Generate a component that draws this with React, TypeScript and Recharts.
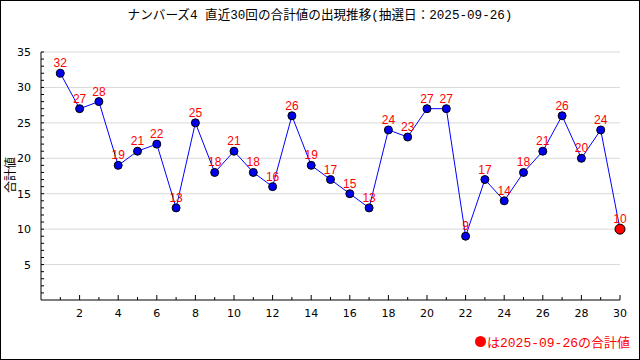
import { LineChart, Line, XAxis, YAxis, ReferenceLine, LabelList } from "recharts";

// 回号(1〜30) と合計値
const draws = Array.from({ length: 30 }, (_, i) => i + 1);
const sums = [32, 27, 28, 19, 21, 22, 13, 25, 18, 21, 18, 16, 26, 19, 17, 15, 13, 24, 23, 27, 27, 9, 17, 14, 18, 21, 26, 20, 24, 10];
const yTicks = Array.from({ length: 35 }, (_, i) => i + 1);
const xTicks = Array.from({ length: 30 }, (_, i) => i + 1);
const gridValues = [5, 10, 15, 20, 25, 30, 35];

const title = "ナンバーズ4 直近30回の合計値の出現推移(抽選日：2025-09-26)";
const legendText = "は2025-09-26の合計値";
const yLabel = "合計値";

const data = draws.map((d, i) => ({ draw: d, sum: sums[i] }));
const last = data.length - 1;

const tickFont = "'DejaVu Sans', 'Liberation Sans', sans-serif";
const jpFont = "'Liberation Mono', 'Noto Sans CJK JP', monospace";

function YTick({ x, y, payload }: any) {
  const v = payload.value;
  const major = v % 5 === 0;
  return (
    <g>
      <line x1={x} y1={y} x2={x + 3} y2={y} stroke="#000" />
      {major && (
        <text x={x - 10} y={y} dy={4} textAnchor="end" fontSize={11} fontFamily={tickFont} fill="#000">
          {v}
        </text>
      )}
    </g>
  );
}

function XTick({ x, y, payload }: any) {
  const v = payload.value;
  const major = v % 2 === 0;
  return (
    <g>
      <line x1={x} y1={y} x2={x} y2={y - (major ? 5 : 3)} stroke="#000" />
      {major && (
        <text x={x} y={y + 17} textAnchor="middle" fontSize={11} fontFamily={tickFont} fill="#000">
          {v}
        </text>
      )}
    </g>
  );
}

function Dot({ cx, cy, index }: any) {
  if (index === last) {
    return <circle key={index} cx={cx} cy={cy} r={5} fill="#ff0000" stroke="#000" strokeWidth={1} />;
  }
  return <circle key={index} cx={cx} cy={cy} r={4} fill="#0000ee" stroke="#000" strokeWidth={1} />;
}

export default function App() {
  return (
    <div style={{ position: "absolute", left: 0, top: 0, width: 640, height: 360, background: "#fff" }}>
      <LineChart width={640} height={360} data={data} margin={{ top: 52, right: 20, bottom: 0, left: 0 }}>
        {gridValues.map((g) => (
          <ReferenceLine key={g} y={g} stroke="#d9d9d9" strokeWidth={1} />
        ))}
        <XAxis
          dataKey="draw"
          type="number"
          domain={[0, 30]}
          ticks={xTicks}
          interval={0}
          height={60}
          tickSize={0}
          tickMargin={0}
          tickLine={false}
          axisLine={{ stroke: "#000" }}
          tick={<XTick />}
        />
        <YAxis
          type="number"
          domain={[0, 35]}
          ticks={yTicks}
          interval={0}
          width={41}
          tickSize={0}
          tickMargin={0}
          tickLine={false}
          axisLine={{ stroke: "#000" }}
          tick={<YTick />}
        />
        <Line
          dataKey="sum"
          stroke="#0000ff"
          strokeWidth={1}
          dot={<Dot />}
          activeDot={false}
          isAnimationActive={false}
        >
          <LabelList
            dataKey="sum"
            position="top"
            offset={6}
            fill="#ff0000"
            fontSize={12}
            fontFamily="'Liberation Sans', Arial, sans-serif"
          />
        </Line>
      </LineChart>
      <div
        style={{
          position: "absolute",
          left: 0,
          top: 4,
          width: 640,
          textAlign: "center",
          fontSize: 12.6,
          fontFamily: jpFont,
          color: "#000",
        }}
      >
        {title}
      </div>
      <div
        style={{
          position: "absolute",
          left: 10,
          top: 175,
          transform: "translate(-50%, -50%) rotate(-90deg)",
          fontSize: 12,
          fontFamily: jpFont,
          whiteSpace: "nowrap",
          color: "#000",
        }}
      >
        {yLabel}
      </div>
      <div
        style={{
          position: "absolute",
          left: 475,
          top: 332,
          display: "flex",
          alignItems: "center",
          fontSize: 13,
          fontFamily: jpFont,
          color: "#ff0000",
          whiteSpace: "nowrap",
        }}
      >
        <span
          style={{
            display: "inline-block",
            width: 11,
            height: 11,
            borderRadius: "50%",
            background: "#ff0000",
            marginRight: 1,
          }}
        />
        {legendText}
      </div>
      <div
        style={{
          position: "absolute",
          left: 0,
          top: 0,
          width: 640,
          height: 360,
          boxSizing: "border-box",
          border: "1px solid #000",
          pointerEvents: "none",
        }}
      />
    </div>
  );
}
